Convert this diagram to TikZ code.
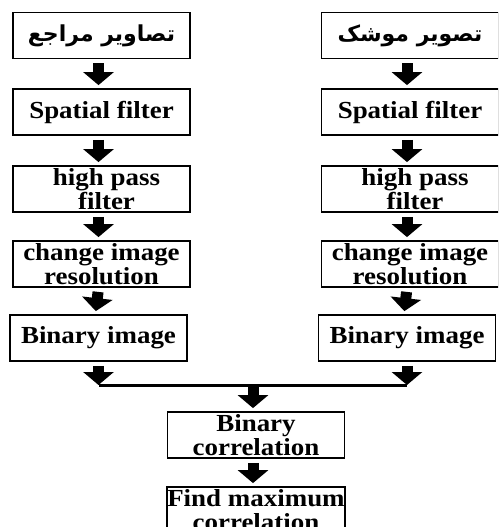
\documentclass[tikz,border=0pt]{standalone}
\usepackage{fontspec}
\setmainfont{Liberation Serif}[FakeStretch=1.1]
\newfontfamily\arabicfont[Script=Arabic]{DejaVu Sans}
\TeXXeTstate=1
\usetikzlibrary{arrows.meta}

\tikzset{
  stepbox/.style={draw, line width=1.8pt, minimum width=177pt, minimum height=46pt,
    inner sep=0pt, align=center, font=\bfseries\fontsize{24.5}{23.5}\selectfont},
  blkarrow/.style={line width=11pt, -{Triangle[width=30pt, length=13pt]},
    shorten <=4pt, shorten >=3pt},
  joinline/.style={line width=3pt},
}

\begin{document}
\begin{tikzpicture}[x=1pt, y=-1pt]%
  \useasboundingbox (0,0) rectangle (498,527);
  \clip (0,0) rectangle (498,527);
  % first boxes
  \node[stepbox] (l1) at (101.5,35.5) {\arabicfont\fontsize{22}{24}\selectfont\beginR تصاویر مراجع\endR};
  \node[stepbox] (r1) at (410,35.5) {\arabicfont\fontsize{22}{24}\selectfont\beginR تصویر موشک\endR};
  % both columns
  \foreach \cx/\c in {101.5/l, 410/r} {
    \node[stepbox] (\c2) at (\cx,112) {Spatial filter};
    \node[stepbox] (\c3) at (\cx,189) {\hspace*{10pt}high pass\\\hspace*{10pt}filter};
    \node[stepbox] (\c4) at (\cx,264) {change image\\resolution};
    \node[stepbox] (\c5) at (\cx-3,338) {Binary image};
    \foreach \i/\j in {1/2, 2/3, 3/4, 4/5} {
      \draw[blkarrow] ([xshift=-3pt]\c\i.south) -- ([xshift=-3pt]\c\j.north);
    }
  }
  % join
  \coordinate (jl) at (l5.south |- 0,385);
  \coordinate (jr) at (r5.south |- 0,385);
  \coordinate (jm) at (253,385);
  \draw[blkarrow, shorten >=0pt] (l5.south) -- (jl);
  \draw[blkarrow, shorten >=0pt] (r5.south) -- (jr);
  \draw[joinline] (jl) -- (jr);
  \node[stepbox] (bc) at (256,435) {Binary\\correlation};
  \node[stepbox] (fm) at (256,510) {Find maximum\\correlation};
  \draw[blkarrow, shorten <=2pt] (jm) -- ([xshift=-3pt]bc.north);
  \draw[blkarrow] ([xshift=-3pt]bc.south) -- ([xshift=-3pt]fm.north);
\end{tikzpicture}
\end{document}
